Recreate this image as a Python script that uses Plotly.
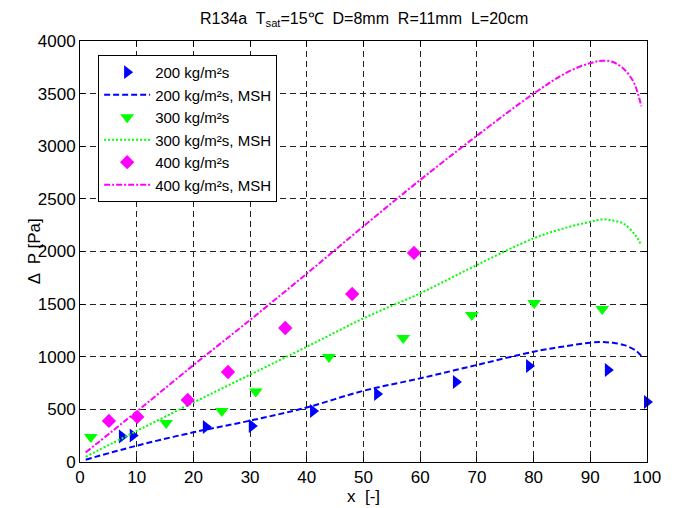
import plotly.graph_objects as go

# Experimental data
x200 = [7.4, 9.3, 22.2, 30.3, 41.1, 52.4, 66.3, 79.2, 93.1, 100.0]
y200 = [242, 252, 333, 342, 485, 646, 760, 912, 874, 570]
x300 = [1.9, 15.2, 25.0, 31.0, 43.9, 57.0, 69.1, 80.1, 92.1]
y300 = [238, 371, 485, 670, 998, 1178, 1397, 1511, 1454]
x400 = [5.1, 10.1, 19.0, 26.1, 36.2, 48.0, 58.9]
y400 = [390, 428, 589, 855, 1273, 1596, 1986]

# MSH correlation curves
xm200 = [1, 10, 20, 30, 40, 50, 60, 70, 80, 85, 90, 92, 94, 96, 98, 99]
ym200 = [22, 155, 282, 393, 518, 677, 795, 922, 1048, 1095, 1134, 1140, 1132, 1110, 1060, 1007]
xm300 = [1, 10, 20, 30, 40, 50, 60, 70, 80, 85, 90, 92, 94, 96, 98, 99]
ym300 = [50, 295, 565, 830, 1095, 1365, 1603, 1872, 2125, 2215, 2283, 2305, 2295, 2260, 2150, 2060]
xm400 = [1, 10, 20, 30, 40, 50, 60, 70, 80, 86, 90, 92, 94, 96, 97.6, 98.4, 99]
ym400 = [90, 480, 920, 1350, 1790, 2240, 2680, 3100, 3500, 3705, 3790, 3812, 3800, 3730, 3613, 3500, 3380]

xticks = list(range(0, 101, 10))
yticks = list(range(0, 4001, 500))

BLUE = "#0000FF"
GREEN = "#00FF00"
MAG = "#FF00FF"
FONT = "Liberation Sans, Arial"

fig = go.Figure()
fig.add_trace(go.Scatter(x=x200, y=y200, mode="markers", name="200 kg/m²s", cliponaxis=False,
                         marker=dict(symbol="triangle-right", size=12, color=BLUE)))
fig.add_trace(go.Scatter(x=xm200, y=ym200, mode="lines", name="200 kg/m²s, MSH",
                         line=dict(color=BLUE, width=2, dash="6px,3px"), line_shape="spline"))
fig.add_trace(go.Scatter(x=x300, y=y300, mode="markers", name="300 kg/m²s", cliponaxis=False,
                         marker=dict(symbol="triangle-down", size=12, color=GREEN)))
fig.add_trace(go.Scatter(x=xm300, y=ym300, mode="lines", name="300 kg/m²s, MSH",
                         line=dict(color=GREEN, width=2, dash="2px,2px"), line_shape="spline"))
fig.add_trace(go.Scatter(x=x400, y=y400, mode="markers", name="400 kg/m²s", cliponaxis=False,
                         marker=dict(symbol="diamond", size=11, color=MAG)))
fig.add_trace(go.Scatter(x=xm400, y=ym400, mode="lines", name="400 kg/m²s, MSH",
                         line=dict(color=MAG, width=2, dash="6px,2px,2px,2px"), line_shape="spline"))

axis_common = dict(
    showline=True, linecolor="black", linewidth=1, mirror="ticks",
    ticks="inside", ticklen=5, tickcolor="black", automargin=False,
    showgrid=True, gridcolor="#222222", gridwidth=1, griddash="6px,4px",
    zeroline=False, tickfont=dict(family=FONT, size=17, color="black"),
)

fig.update_layout(
    width=675, height=508,
    margin=dict(l=80, r=28, t=41, b=46),
    paper_bgcolor="white", plot_bgcolor="white",
    font=dict(family=FONT, size=16, color="black"),
    xaxis=dict(range=[0, 100], tickvals=xticks, **axis_common),
    yaxis=dict(range=[0, 4000], tickvals=yticks, **axis_common),
    showlegend=True,
    legend=dict(x=0.032, y=0.967, xanchor="left", yanchor="top",
                bgcolor="white", bordercolor="black", borderwidth=1,
                itemwidth=46,
                font=dict(family=FONT, size=15), tracegroupgap=0),
    annotations=[
        dict(text="R134a  T<sub>sat</sub>=15℃  D=8mm  R=11mm  L=20cm",
             xref="paper", yref="paper", x=0.5, y=1.0, yshift=10,
             xanchor="center", yanchor="bottom", showarrow=False,
             font=dict(family=FONT, size=16)),
        dict(text="x  [-]", xref="paper", yref="paper", x=0.5, y=-0.083,
             xanchor="center", yanchor="middle", showarrow=False,
             font=dict(family=FONT, size=17)),
        dict(text="Δ  P [Pa]", xref="paper", yref="paper", x=-0.08, y=0.5,
             xanchor="center", yanchor="middle", textangle=-90, showarrow=False,
             font=dict(family=FONT, size=17)),
    ],
)

fig.write_html("out.html", config={"displayModeBar": False},
               post_script="document.body.style.margin='0px';")
